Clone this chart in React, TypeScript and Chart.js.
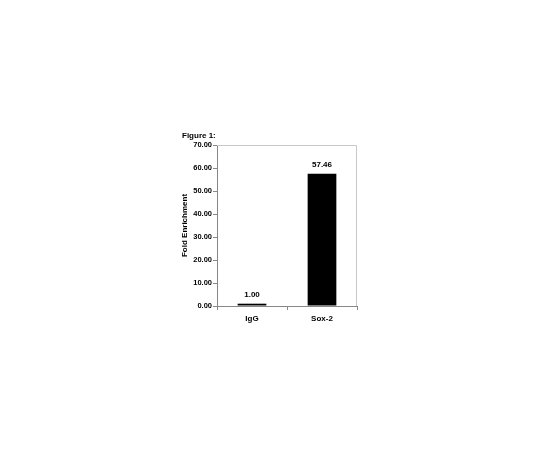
import React, { useEffect, useRef } from "react";
import { Chart, registerables } from "chart.js";

Chart.register(...registerables);

const categories = ["IgG", "Sox-2"];
const foldEnrichment = [1.0, 57.46];
const yMax = 70;
const yStep = 10;

const FONT = "'Liberation Sans', Arial, sans-serif";

const extrasPlugin = {
  id: "extras",
  afterDraw(chart: any) {
    const { ctx, chartArea } = chart;
    ctx.save();
    // light plot border on top and right
    ctx.strokeStyle = "#c8c8c8";
    ctx.lineWidth = 1;
    ctx.beginPath();
    ctx.moveTo(chartArea.left, chartArea.top + 0.5);
    ctx.lineTo(chartArea.right - 0.5, chartArea.top + 0.5);
    ctx.lineTo(chartArea.right - 0.5, chartArea.bottom);
    ctx.stroke();
    // value labels
    ctx.fillStyle = "#000";
    ctx.font = `bold 8px ${FONT}`;
    ctx.textAlign = "center";
    ctx.textBaseline = "bottom";
    const meta = chart.getDatasetMeta(0);
    meta.data.forEach((bar: any, i: number) => {
      ctx.fillText(foldEnrichment[i].toFixed(2), bar.x, bar.y - 5);
    });
    // figure caption
    ctx.font = `bold 8px ${FONT}`;
    ctx.textAlign = "left";
    ctx.textBaseline = "middle";
    ctx.fillText("Figure 1:", 182, 136);
    ctx.restore();
  },
};

export default function App() {
  const ref = useRef<HTMLCanvasElement | null>(null);
  useEffect(() => {
    document.body.style.margin = "0";
    const chart = new Chart(ref.current!, {
      type: "bar",
      data: {
        labels: categories,
        datasets: [
          {
            data: foldEnrichment,
            backgroundColor: "#000",
            borderWidth: 0,
            barPercentage: 0.41,
            categoryPercentage: 1,
          },
        ],
      },
      options: {
        animation: false,
        responsive: false,
        devicePixelRatio: 1,
        layout: { padding: { left: 170, right: 183, top: 145, bottom: 124 } },
        plugins: { legend: { display: false }, tooltip: { enabled: false }, title: { display: false } },
        scales: {
          x: {
            offset: true,
            grid: {
              offset: true,
              drawOnChartArea: false,
              drawTicks: true,
              tickLength: 4,
              color: "#888",
            },
            border: { color: "#888" },
            ticks: { color: "#000", font: { family: FONT, size: 8, weight: "bold" }, padding: 4 },
            afterFit(scale: any) {
              scale.height = 20;
            },
          },
          y: {
            min: 0,
            max: yMax,
            grid: { drawOnChartArea: false, tickLength: 4, color: "#888" },
            border: { color: "#888" },
            ticks: {
              stepSize: yStep,
              color: "#000",
              padding: 1,
              font: { family: FONT, size: 7.5, weight: "bold" },
              callback: (v: any) => Number(v).toFixed(2),
            },
            title: {
              display: true,
              text: "Fold Enrichment",
              color: "#000",
              font: { family: FONT, size: 8, weight: "bold" },
              padding: { top: 10, bottom: 0 },
            },
            afterFit(scale: any) {
              scale.width = 47;
            },
          },
        },
      },
      plugins: [extrasPlugin],
    });
    return () => chart.destroy();
  }, []);
  return (
    <div style={{ width: 540, height: 450, background: "#fff" }}>
      <canvas ref={ref} width={540} height={450} style={{ display: "block" }} />
    </div>
  );
}
